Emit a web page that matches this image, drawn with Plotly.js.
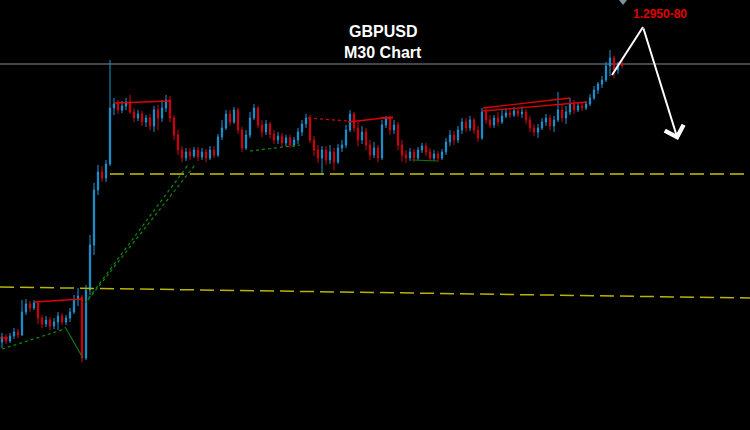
<!DOCTYPE html>
<html>
<head>
<meta charset="utf-8">
<script src="https://cdn.plot.ly/plotly-3.0.1.min.js"></script>
<style>
html,body{margin:0;padding:0;background:#000;}
#chart{width:750px;height:430px;}
</style>
</head>
<body>
<div id="chart"></div>
<script>
// GBPUSD M30 candles
var openP = [1.2658,1.2663,1.2659,1.2664,1.2668,1.2665,1.2688,1.2696,1.2692,1.2697,
1.2682,1.2676,1.2680,1.2674,1.2678,1.2684,1.2678,1.2682,1.2688,1.2700,
1.2703,1.2642,1.2710,1.2755,1.2810,1.2828,1.2822,1.2836,1.2892,1.2896,
1.2890,1.2894,1.2898,1.2888,1.2882,1.2886,1.2878,1.2882,1.2874,1.2890,
1.2882,1.2892,1.2900,1.2882,1.2865,1.2850,1.2842,1.2848,1.2844,1.2850,
1.2843,1.2848,1.2842,1.2850,1.2845,1.2863,1.2872,1.2886,1.2878,1.2890,
1.2870,1.2852,1.2865,1.2882,1.2892,1.2875,1.2868,1.2876,1.2866,1.2860,
1.2864,1.2857,1.2862,1.2855,1.2860,1.2868,1.2876,1.2882,1.2860,1.2850,
1.2842,1.2850,1.2840,1.2848,1.2838,1.2852,1.2855,1.2870,1.2886,1.2872,
1.2860,1.2868,1.2855,1.2845,1.2852,1.2842,1.2875,1.2882,1.2870,1.2875,
1.2855,1.2845,1.2842,1.2848,1.2842,1.2850,1.2854,1.2848,1.2842,1.2846,
1.2842,1.2848,1.2858,1.2865,1.2860,1.2870,1.2878,1.2872,1.2880,1.2870,
1.2862,1.2888,1.2880,1.2875,1.2882,1.2878,1.2884,1.2887,1.2885,1.2889,
1.2886,1.2888,1.2880,1.2872,1.2868,1.2872,1.2878,1.2882,1.2874,1.2880,
1.2890,1.2882,1.2888,1.2896,1.2890,1.2894,1.2892,1.2896,1.2902,1.2910,
1.2916,1.2920,1.2934,1.2942,1.2930,1.2936];
var highP = [1.2667,1.2666,1.2667,1.2672,1.2671,1.2700,1.2701,1.2699,1.2700,1.2699,
1.2685,1.2684,1.2683,1.2682,1.2688,1.2687,1.2685,1.2692,1.2705,1.2712,
1.2705,1.2715,1.2765,1.2817,1.2835,1.2834,1.2840,1.2940,1.2902,1.2900,
1.2899,1.2902,1.2905,1.2892,1.2890,1.2889,1.2885,1.2886,1.2894,1.2895,
1.2900,1.2905,1.2904,1.2885,1.2870,1.2854,1.2852,1.2852,1.2853,1.2853,
1.2852,1.2851,1.2854,1.2854,1.2866,1.2880,1.2890,1.2890,1.2893,1.2892,
1.2873,1.2870,1.2888,1.2896,1.2894,1.2880,1.2880,1.2878,1.2870,1.2868,
1.2867,1.2865,1.2865,1.2863,1.2872,1.2880,1.2886,1.2885,1.2864,1.2855,
1.2854,1.2854,1.2855,1.2852,1.2856,1.2860,1.2875,1.2890,1.2888,1.2878,
1.2874,1.2872,1.2860,1.2858,1.2855,1.2880,1.2884,1.2884,1.2880,1.2878,
1.2860,1.2850,1.2852,1.2851,1.2853,1.2857,1.2857,1.2852,1.2850,1.2849,
1.2851,1.2862,1.2870,1.2869,1.2874,1.2882,1.2882,1.2884,1.2882,1.2874,
1.2892,1.2892,1.2885,1.2885,1.2888,1.2890,1.2892,1.2892,1.2893,1.2892,
1.2892,1.2891,1.2884,1.2876,1.2876,1.2882,1.2886,1.2885,1.2884,1.2908,
1.2896,1.2894,1.2902,1.2900,1.2898,1.2897,1.2899,1.2906,1.2914,1.2918,
1.2924,1.2938,1.2950,1.2944,1.2938,1.2940];
var lowP = [1.2652,1.2656,1.2657,1.2661,1.2662,1.2664,1.2685,1.2688,1.2690,1.2676,
1.2672,1.2673,1.2670,1.2671,1.2670,1.2675,1.2675,1.2678,1.2686,1.2694,
1.2638,1.2640,1.2705,1.2745,1.2805,1.2818,1.2818,1.2834,1.2885,1.2886,
1.2887,1.2890,1.2886,1.2878,1.2879,1.2874,1.2873,1.2870,1.2868,1.2870,
1.2878,1.2888,1.2878,1.2860,1.2845,1.2838,1.2839,1.2840,1.2842,1.2839,
1.2840,1.2838,1.2840,1.2842,1.2843,1.2860,1.2870,1.2874,1.2876,1.2866,
1.2848,1.2850,1.2862,1.2880,1.2872,1.2863,1.2865,1.2862,1.2856,1.2856,
1.2853,1.2854,1.2852,1.2853,1.2856,1.2864,1.2872,1.2857,1.2844,1.2837,
1.2825,1.2835,1.2836,1.2830,1.2836,1.2848,1.2852,1.2868,1.2868,1.2854,
1.2856,1.2850,1.2840,1.2842,1.2838,1.2840,1.2872,1.2865,1.2866,1.2850,
1.2838,1.2837,1.2839,1.2838,1.2840,1.2847,1.2844,1.2839,1.2839,1.2838,
1.2840,1.2845,1.2854,1.2855,1.2857,1.2866,1.2868,1.2869,1.2866,1.2858,
1.2860,1.2876,1.2872,1.2872,1.2874,1.2876,1.2882,1.2882,1.2883,1.2883,
1.2882,1.2876,1.2868,1.2864,1.2862,1.2870,1.2874,1.2870,1.2868,1.2878,
1.2878,1.2876,1.2885,1.2886,1.2888,1.2889,1.2890,1.2894,1.2900,1.2906,
1.2912,1.2918,1.2924,1.2922,1.2926,1.2932];
var closeP = [1.2663,1.2659,1.2664,1.2668,1.2665,1.2688,1.2696,1.2692,1.2697,1.2682,
1.2676,1.2680,1.2674,1.2678,1.2684,1.2678,1.2682,1.2688,1.2700,1.2704,
1.2642,1.2710,1.2755,1.2810,1.2828,1.2822,1.2836,1.2892,1.2896,1.2890,
1.2894,1.2898,1.2888,1.2882,1.2886,1.2878,1.2882,1.2874,1.2890,1.2882,
1.2892,1.2900,1.2882,1.2865,1.2850,1.2842,1.2848,1.2844,1.2850,1.2843,
1.2848,1.2842,1.2850,1.2845,1.2863,1.2872,1.2886,1.2878,1.2890,1.2870,
1.2852,1.2865,1.2882,1.2892,1.2875,1.2868,1.2876,1.2866,1.2860,1.2864,
1.2857,1.2862,1.2855,1.2860,1.2868,1.2876,1.2882,1.2860,1.2850,1.2842,
1.2850,1.2840,1.2848,1.2838,1.2852,1.2855,1.2870,1.2886,1.2872,1.2860,
1.2868,1.2855,1.2845,1.2852,1.2842,1.2875,1.2882,1.2870,1.2875,1.2855,
1.2845,1.2842,1.2848,1.2842,1.2850,1.2854,1.2848,1.2842,1.2846,1.2842,
1.2848,1.2858,1.2865,1.2860,1.2870,1.2878,1.2872,1.2880,1.2870,1.2862,
1.2888,1.2880,1.2875,1.2882,1.2878,1.2884,1.2887,1.2885,1.2889,1.2886,
1.2888,1.2880,1.2872,1.2868,1.2872,1.2878,1.2882,1.2874,1.2880,1.2890,
1.2882,1.2888,1.2896,1.2890,1.2894,1.2892,1.2896,1.2902,1.2910,1.2916,
1.2920,1.2934,1.2942,1.2930,1.2936,1.2934];

// Trend lines drawn on the chart: [x0 bar, price0, x1 bar, price1]
var redLines = [[-0.5,1.2662,1.5,1.2662],[8.25,1.2698,20,1.2701],[28.25,1.2897,42,1.2899],
  [86.5,1.2878,97.75,1.2883],[94.5,1.2882,97.75,1.2882],[120.25,1.2892,142,1.2902],[120.25,1.2889,146.25,1.2898]];
var redDotted = [[76.5,1.2882,86.5,1.2879]];
var greenDotted = [[0,1.2651,15.75,1.2671],[20.75,1.2697,46.5,1.2835],[21.5,1.2700,48.25,1.2835],[62,1.2849,74.5,1.2855]];
var greenSolid = [[15.75,1.2673,20.25,1.2642],[102.5,1.2840,108.75,1.2839]];
var supportUpper = [27,1.2826,187,1.2826];
var supportLower = [-0.5,1.2713,187,1.2702];
var currentPrice = 1.2936;
var arrowPath = [[152.5,1.2925],[160.25,1.2973],[169,1.2860]];
var titleLines = ["GBPUSD","M30 Chart"];
var targetLabel = "1.2950-80";

var xs = [];
for (var i = 0; i < openP.length; i++) xs.push(i);

var trace = {
  type: 'candlestick',
  x: xs, open: openP, high: highP, low: lowP, close: closeP,
  increasing: {line: {color: '#1f94d2', width: 1}, fillcolor: '#1f94d2'},
  decreasing: {line: {color: '#d4000f', width: 1}, fillcolor: '#d4000f'},
  whiskerwidth: 0,
  hoverinfo: 'skip'
};

var shapes = [];
function addLines(arr, color, width, dash) {
  arr.forEach(function (l) {
    shapes.push({type: 'line', xref: 'x', yref: 'y', x0: l[0], y0: l[1], x1: l[2], y1: l[3],
      line: {color: color, width: width, dash: dash}});
  });
}
// current price line
shapes.push({type: 'line', xref: 'paper', yref: 'y', x0: 0, x1: 1, y0: currentPrice, y1: currentPrice,
  line: {color: '#7f8fa0', width: 1}, layer: 'below'});
addLines([supportUpper], '#c8c400', 1.5, '14px,6px');
addLines([supportLower], '#b8b400', 1.5, '14px,6px');
addLines(greenDotted, '#0c8a0c', 1.2, 'dot');
addLines(greenSolid, '#0c7a0c', 1.2, 'solid');
addLines(redLines, '#e00000', 1.3, 'solid');
addLines(redDotted, '#d00000', 1.3, 'dot');
// white arrow first leg
shapes.push({type: 'line', xref: 'x', yref: 'y', x0: arrowPath[0][0], y0: arrowPath[0][1],
  x1: arrowPath[1][0], y1: arrowPath[1][1], line: {color: '#ffffff', width: 2}});
// small marker at top
shapes.push({type: 'path', xref: 'paper', yref: 'paper',
  path: 'M 0.8253 1 L 0.8360 1 L 0.8307 0.9884 Z', fillcolor: '#8090a0', line: {width: 0}});

var annotations = [
  {xref: 'paper', yref: 'paper', x: 0.511, y: 0.9267, text: titleLines[0], showarrow: false,
   xanchor: 'center', yanchor: 'middle', font: {family: 'Liberation Sans, Arial, sans-serif', size: 16, color: '#ffffff', weight: 'bold'}},
  {xref: 'paper', yref: 'paper', x: 0.510, y: 0.879, text: titleLines[1], showarrow: false,
   xanchor: 'center', yanchor: 'middle', font: {family: 'Liberation Sans, Arial, sans-serif', size: 16, color: '#ffffff', weight: 'bold'}},
  {xref: 'paper', yref: 'paper', x: 0.88, y: 0.9663, text: targetLabel, showarrow: false,
   xanchor: 'center', yanchor: 'middle', font: {family: 'Liberation Sans, Arial, sans-serif', size: 12, color: '#e00000', weight: 'bold'}},
  {xref: 'x', yref: 'y', x: arrowPath[2][0], y: arrowPath[2][1], axref: 'x', ayref: 'y',
   ax: arrowPath[1][0], ay: arrowPath[1][1], text: '', showarrow: true, arrowhead: 4,
   arrowsize: 1.9, arrowwidth: 2, arrowcolor: '#ffffff', standoff: 0, startstandoff: 0}
];

var layout = {
  width: 750, height: 430,
  margin: {l: 0, r: 0, t: 0, b: 0, pad: 0},
  paper_bgcolor: '#000000', plot_bgcolor: '#000000',
  showlegend: false,
  boxgap: 0.55,
  xaxis: {visible: false, range: [-0.5, 187], rangeslider: {visible: false}, fixedrange: true},
  yaxis: {visible: false, range: [1.2570, 1.3000], fixedrange: true},
  shapes: shapes,
  annotations: annotations,
  hovermode: false
};

Plotly.newPlot('chart', [trace], layout, {staticPlot: true, displayModeBar: false});
</script>
</body>
</html>
